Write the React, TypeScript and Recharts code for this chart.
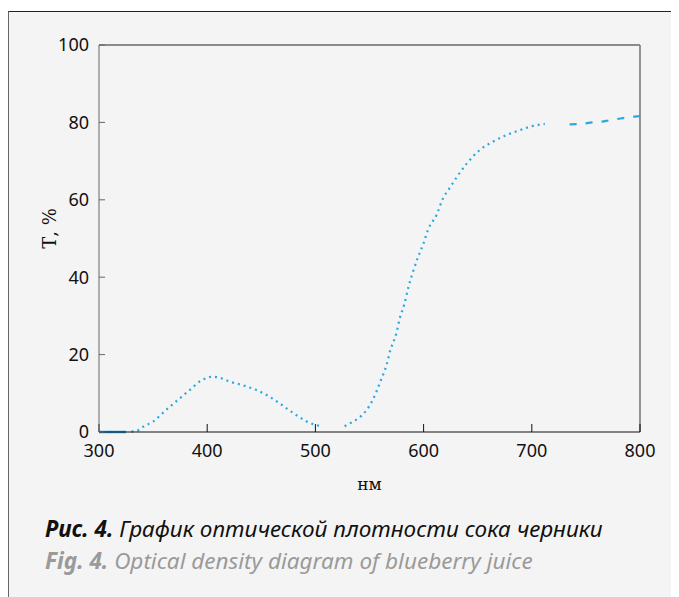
import React from "react";
import { LineChart, Line, XAxis, YAxis, ReferenceLine } from "recharts";

// wavelength (nm) / transmittance (%)
const BASE_WL = [300, 310, 318, 325];
const BASE_T = [0, 0, 0, 0];

const MAIN_WL = [
  330, 335, 341, 350, 362, 373, 384, 395, 405, 413, 421, 429, 437, 445, 452, 460, 467, 474, 480,
  486, 492, 498, 504, 515, 527, 533, 540, 546, 553, 560, 566, 569, 575, 578, 582, 586, 590, 595,
  600, 604, 612, 618, 624, 631, 640, 652, 664, 673, 683, 692, 701, 712,
];
const MAIN_T = [
  0.1, 0.3, 1.4, 2.7, 5.7, 8.3, 10.9, 13.4, 14.3, 13.9, 13.0, 12.4, 11.7, 10.9, 10.0, 8.7, 7.4,
  6.0, 4.8, 3.7, 2.7, 2.0, 1.6, null, 1.5, 2.4, 3.6, 5.2, 8.3, 13, 17.6, 20.9, 25.7, 29.4, 32.8,
  37.5, 41.2, 45.3, 48.8, 52.2, 56.1, 60.4, 63, 66, 69.4, 72.9, 75, 76.3, 77.4, 78.3, 79.1, 79.6,
];

const TAIL_WL = [735, 745, 756, 765, 771, 782, 795, 800];
const TAIL_T = [79.5, 79.6, 80.0, 80.2, 80.5, 81.0, 81.5, 81.6];

const X_TICKS = [300, 400, 500, 600, 700, 800];
const Y_TICKS = [0, 20, 40, 60, 80, 100];

const toRows = (xs: number[], ys: (number | null)[]) => xs.map((x, i) => ({ x, t: ys[i] }));

const baseData = toRows(BASE_WL, BASE_T);
const mainData = toRows(MAIN_WL, MAIN_T);
const tailData = toRows(TAIL_WL, TAIL_T);

const BLUE = "#2aa8e0";
const tickFont = { fontFamily: "'Noto Sans', sans-serif", fontSize: 18, fill: "#111" };
const labelFont = { fontFamily: "'DejaVu Serif', serif", fontSize: 17, fill: "#111" };

const YLabel = (props: any) => {
  const { viewBox } = props;
  const x = viewBox.x + 30;
  const y = viewBox.y + viewBox.height / 2 - 10;
  return (
    <text
      x={x}
      y={y}
      transform={`rotate(-90, ${x}, ${y})`}
      textAnchor="middle"
      dominantBaseline="central"
      style={{ ...labelFont, fontSize: 18 }}
    >
      Т, %
    </text>
  );
};

export default function App() {
  return (
    <div
      style={{
        marginTop: 3,
        width: 690,
        height: 600,
        background: "#f4f4f4",
        borderLeft: "1.5px solid #666",
        borderTop: "1.5px solid #222",
        boxSizing: "border-box",
      }}
    >
      <LineChart width={660} height={490} margin={{ top: 33, right: 29, bottom: 0, left: 10 }}>
        <XAxis
          type="number"
          dataKey="x"
          domain={[300, 800]}
          ticks={X_TICKS}
          height={70}
          stroke="#111"
          tickSize={-8}
          tickMargin={20}
          tick={tickFont}
          label={{ value: "нм", position: "insideBottom", offset: 12, style: labelFont }}
        />
        <YAxis
          type="number"
          domain={[0, 100]}
          ticks={Y_TICKS}
          width={80}
          stroke="#666"
          tickSize={-6}
          tickMargin={16}
          tick={tickFont}
          label={<YLabel />}
        />
        <ReferenceLine y={100} stroke="#222" strokeWidth={1.2} />
        <ReferenceLine x={800} stroke="#888" strokeWidth={1.8} />
        <Line
          data={baseData}
          dataKey="t"
          type="monotone"
          stroke="#22a2de"
          strokeWidth={2.5}
          dot={false}
          isAnimationActive={false}
        />
        <Line
          data={mainData}
          dataKey="t"
          type="monotone"
          stroke={BLUE}
          strokeWidth={2.2}
          strokeDasharray="2 4"
          dot={false}
          connectNulls={false}
          isAnimationActive={false}
        />
        <Line
          data={tailData}
          dataKey="t"
          type="monotone"
          stroke={BLUE}
          strokeWidth={2.2}
          strokeDasharray="7 9"
          dot={false}
          isAnimationActive={false}
        />
      </LineChart>
      <div
        style={{
          paddingLeft: 36,
          marginTop: 11,
          fontFamily: "'Noto Sans', sans-serif",
          fontStyle: "italic",
          fontSize: 22.5,
          lineHeight: "32px",
        }}
      >
        <div style={{ color: "#111" }}>
          <b>Рис. 4.</b> График оптической плотности сока черники
        </div>
        <div style={{ color: "#9a9a9a" }}>
          <b>Fig. 4.</b> Optical density diagram of blueberry juice
        </div>
      </div>
    </div>
  );
}
